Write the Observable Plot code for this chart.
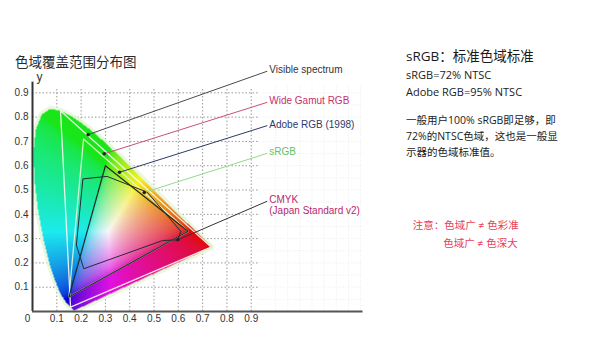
<!DOCTYPE html>
<html><head><meta charset="utf-8">
<script src="https://cdn.jsdelivr.net/npm/d3@7"></script>
<script src="https://cdn.jsdelivr.net/npm/@observablehq/plot@0.6"></script>
<style>
html,body{margin:0;padding:0;background:#fff;}
#wrap{position:relative;width:591px;height:360px;overflow:hidden;font-family:"Open Sans","Noto Sans CJK SC",sans-serif;}
#wrap svg{position:absolute;left:0;top:0;}
.t{position:absolute;white-space:nowrap;line-height:1;}
</style></head><body><div id="wrap"></div>
<script>
// CIE 1931 spectral locus
const locusX = [0.1741,0.1714,0.1644,0.1566,0.1440,0.1241,0.1096,0.0913,0.0687,0.0454,0.0235,0.0082,0.0039,0.0139,0.0389,0.0743,0.1142,0.1547,0.1929,0.2296,0.2658,0.3016,0.3373,0.3731,0.4087,0.4441,0.4788,0.5125,0.5448,0.5752,0.6029,0.6270,0.6658,0.6915,0.7079,0.7190,0.7260,0.7334,0.7347];
const locusY = [0.0050,0.0051,0.0109,0.0177,0.0297,0.0578,0.0868,0.1327,0.2007,0.2950,0.4127,0.5384,0.6548,0.7502,0.8120,0.8338,0.8262,0.8059,0.7816,0.7543,0.7243,0.6923,0.6589,0.6245,0.5896,0.5547,0.5202,0.4866,0.4544,0.4242,0.3965,0.3725,0.3340,0.3083,0.2920,0.2809,0.2740,0.2666,0.2653];

// gamut polygons
const wideX = [0.7347,0.1152,0.1566], wideY = [0.2653,0.8264,0.0177];
const adobeX = [0.64,0.21,0.15], adobeY = [0.33,0.71,0.06];
const srgbX = [0.64,0.30,0.15], srgbY = [0.33,0.60,0.06];
const cmykX = [0.209,0.307,0.472,0.610,0.598,0.535,0.211,0.181];
const cmykY = [0.546,0.556,0.491,0.330,0.295,0.292,0.176,0.272];

// callouts
const calloutNames = ["Visible spectrum","Wide Gamut RGB","Adobe RGB (1998)","sRGB","CMYK\n(Japan Standard v2)"];
const pointX = [0.229,0.295,0.358,0.46,0.598];
const pointY = [0.728,0.649,0.573,0.49,0.295];
const labelX = [0.966,0.966,0.966,0.966,0.966];
const labelY = [0.989,0.861,0.765,0.651,0.454];

// ticks
const ticks = [0.1,0.2,0.3,0.4,0.5,0.6,0.7,0.8,0.9];
const tickLabels = ["0.1","0.2","0.3","0.4","0.5","0.6","0.7","0.8","0.9"];
const faintX = [1.0,1.05,1.1,1.15,1.2,1.25,1.3,1.35];
const faintY = [0.05,0.1,0.15,0.2,0.25,0.3,0.35,0.4,0.45,0.5,0.55,0.6,0.65,0.7,0.75,0.8,0.85,0.9];

// styles (kept apart from data)
const leaderStroke = ["#4a4a4a","#c8507f","#2d3a66","#93d98f","#333333"];
const labelFill = ["#333333","#c8306e","#2c3a6e","#66c466","#b8286a"];

const pts = (xs, ys) => xs.map((x, i) => ({x, y: ys[i]}));
const locus = pts(locusX, locusY);
const locusPoly = locusX.map((x, i) => [x, locusY[i]]);
const callouts = calloutNames.map((name, i) => ({name, px: pointX[i], py: pointY[i], lx: labelX[i], ly: labelY[i], i}));

function gam(c) { c = Math.max(0, Math.min(1, c)); return c <= 0.0031308 ? 12.92 * c : 1.055 * Math.pow(c, 1 / 2.4) - 0.055; }
function chroma(x, y) {
  if (!d3.polygonContains(locusPoly, [x, y])) return null;
  const X = x / y, Y = 1, Z = (1 - x - y) / y;
  let r = 3.2406 * X - 1.5372 * Y - 0.4986 * Z;
  let g = -0.9689 * X + 1.8758 * Y + 0.0415 * Z;
  let b = 0.0557 * X - 0.2040 * Y + 1.0570 * Z;
  r = Math.max(0, r); g = Math.max(0, g); b = Math.max(0, b);
  const m = Math.max(r, g, b) || 1;
  r = gam(r / m); g = gam(g / m); b = gam(b / m);
  const L = 0.3 * r + 0.59 * g + 0.11 * b, k = 0.16;
  r += k * (L - r); g += k * (L - g); b += k * (L - b);
  return `rgb(${Math.round(r * 250)},${Math.round(g * 246)},${Math.round(b * 250)})`;
}

const plot = Plot.plot({
  width: 591, height: 360,
  marginLeft: 32, marginRight: 0, marginTop: 0, marginBottom: 49,
  x: {domain: [0, 2.3], axis: null},
  y: {domain: [0, 1.28], axis: null},
  color: {type: "identity"},
  style: {background: "transparent", overflow: "visible"},
  marks: [
    Plot.ruleX(faintX, {y1: 0, y2: 0.93, stroke: "#eeeeee", strokeDasharray: "1,1.5"}),
    Plot.ruleY(faintY, {x1: 0.93, x2: 1.36, stroke: "#eeeeee", strokeDasharray: "1,1.5"}),
    Plot.ruleX(ticks, {y1: 0, y2: 0.92, stroke: "#9a9a9a", strokeDasharray: "1.5,2"}),
    Plot.ruleY(ticks, {x1: 0, x2: 0.93, stroke: "#9a9a9a", strokeDasharray: "1.5,2"}),
    Plot.line(locus, {x: "x", y: "y", curve: "linear-closed", stroke: "#e4f5d4", strokeWidth: 6, strokeOpacity: 0.8}),
    Plot.raster({x1: 0, x2: 0.74, y1: 0, y2: 0.84, fill: chroma, pixelSize: 1}),
    Plot.line(pts(wideX, wideY), {x: "x", y: "y", curve: "linear-closed", stroke: "#fbfbef", strokeWidth: 1.3, strokeOpacity: 0.9}),
    Plot.line(pts(adobeX, adobeY), {x: "x", y: "y", curve: "linear-closed", stroke: "#e3f7cf", strokeWidth: 1.3, strokeOpacity: 0.9}),
    Plot.line(pts(srgbX, srgbY), {x: "x", y: "y", curve: "linear-closed", stroke: "#1f2b24", strokeWidth: 1.2}),
    Plot.line(pts(cmykX, cmykY), {x: "x", y: "y", curve: "linear-closed", stroke: "#262a3a", strokeWidth: 1}),
    Plot.link(callouts, {x1: "px", y1: "py", x2: "lx", y2: "ly", stroke: d => leaderStroke[d.i], strokeWidth: 1}),
    Plot.dot(callouts, {x: "px", y: "py", r: 1.8, fill: "#222"}),
    Plot.text(callouts, {x: "lx", y: "ly", text: "name", dx: 2, dy: -5.5, textAnchor: "start", lineAnchor: "top", lineHeight: 1.05, fill: d => labelFill[d.i], fontSize: 10, fontFamily: "Liberation Sans, Arial, sans-serif"}),
    Plot.ruleX([0], {y1: 0, y2: 0.944, stroke: "#333", strokeWidth: 2}),
    Plot.ruleY([0], {x1: 0, x2: 1.36, stroke: "#555", strokeWidth: 2}),
    Plot.text(ticks, {x: 0, y: d => d, text: (d, i) => tickLabels[i], dx: -4, textAnchor: "end", fontSize: 10, fill: "#333", fontFamily: "Liberation Sans Narrow, Liberation Sans, Arial"}),
    Plot.text(ticks, {x: d => d, y: 0, text: (d, i) => tickLabels[i], dy: 7, fontSize: 10, fill: "#333", fontFamily: "Liberation Sans Narrow, Liberation Sans, Arial"}),
    Plot.text(["0"], {x: 0, y: 0, text: d => d, dx: -5, dy: 7, fontSize: 10, fill: "#333", fontFamily: "Liberation Sans Narrow, Liberation Sans, Arial"}),
    Plot.text(["y"], {x: 0, y: 0.964, text: d => d, dx: 7, fontSize: 12, fill: "#333", fontFamily: "Liberation Sans, Arial"})
  ]
});
const wrap = document.getElementById("wrap");
wrap.appendChild(plot);

const texts = [
  {s: "色域覆盖范围分布图", x: 15, y: 56, f: 13.5, c: "#2a2a2a"},
  {s: "sRGB：标准色域标准", x: 406, y: 50, f: 13.5, c: "#1a1a1a"},
  {s: "sRGB=72% NTSC", x: 406, y: 69, f: 11, c: "#1a1a1a"},
  {s: "Adobe RGB=95% NTSC", x: 406, y: 86.3, f: 11, c: "#1a1a1a"},
  {s: "一般用户100% sRGB即足够，即", x: 406, y: 115.2, f: 10.5, c: "#1a1a1a"},
  {s: "72%的NTSC色域，这也是一般显", x: 406, y: 130.9, f: 10.5, c: "#1a1a1a"},
  {s: "示器的色域标准值。", x: 406, y: 146.5, f: 10.5, c: "#1a1a1a"},
  {s: "注意：色域广 ≠  色彩准", x: 412.7, y: 220.2, f: 10.5, c: "#e8405a"},
  {s: "色域广 ≠  色深大", x: 443.3, y: 237.5, f: 10.5, c: "#e8405a"}
];
for (const t of texts) {
  const d = document.createElement("div");
  d.className = "t";
  d.textContent = t.s;
  d.style.left = t.x + "px"; d.style.top = t.y + "px";
  d.style.fontSize = t.f + "px"; d.style.color = t.c;
  wrap.appendChild(d);
}
</script>
</body></html>
